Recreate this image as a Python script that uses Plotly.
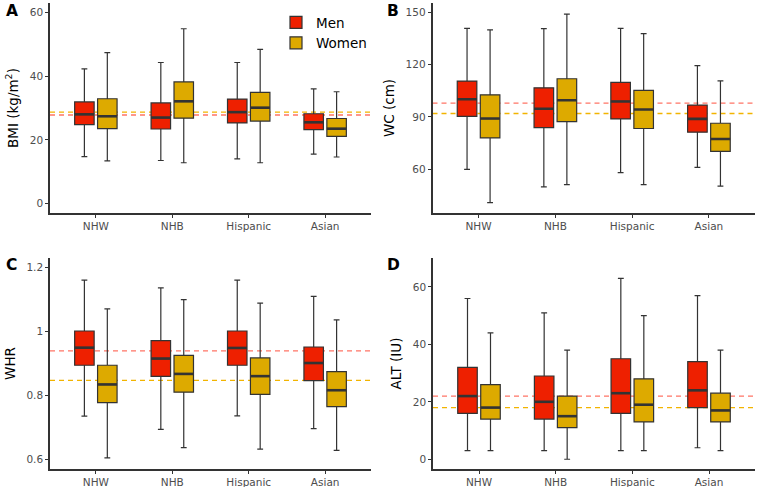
import plotly.graph_objects as go

groups = ["NHW", "NHB", "Hispanic", "Asian"]
sexes = ["Men", "Women"]

# ---- Panel A: BMI ----
bmi_men_low = [14.7, 13.5, 14.0, 15.5]
bmi_men_q1 = [24.8, 23.4, 25.3, 23.2]
bmi_men_med = [28.0, 27.0, 28.7, 25.5]
bmi_men_q3 = [31.9, 31.6, 32.8, 28.2]
bmi_men_high = [42.3, 44.3, 44.3, 36.0]
bmi_wom_low = [13.4, 12.8, 12.8, 14.6]
bmi_wom_q1 = [23.5, 26.8, 25.9, 21.1]
bmi_wom_med = [27.4, 32.1, 30.1, 23.5]
bmi_wom_q3 = [32.9, 38.2, 34.9, 26.7]
bmi_wom_high = [47.4, 54.9, 48.4, 35.1]
bmi_ref = [27.8, 28.7]

# ---- Panel B: WC ----
wc_men_low = [60.0, 50.0, 58.1, 61.1]
wc_men_q1 = [90.3, 83.9, 88.9, 81.3]
wc_men_med = [100.2, 94.7, 98.9, 88.9]
wc_men_q3 = [110.6, 106.7, 109.8, 96.8]
wc_men_high = [140.8, 140.6, 140.8, 119.4]
wc_wom_low = [41.0, 51.2, 51.2, 50.4]
wc_wom_q1 = [78.0, 87.4, 83.4, 70.3]
wc_wom_med = [89.1, 99.6, 94.3, 77.4]
wc_wom_q3 = [102.7, 111.9, 105.2, 86.4]
wc_wom_high = [139.9, 148.9, 137.7, 110.7]
wc_ref = [97.9, 92.0]

# ---- Panel C: WHR ----
whr_men_low = [0.735, 0.694, 0.736, 0.696]
whr_men_q1 = [0.894, 0.859, 0.894, 0.846]
whr_men_med = [0.949, 0.915, 0.948, 0.901]
whr_men_q3 = [1.001, 0.971, 1.001, 0.951]
whr_men_high = [1.160, 1.136, 1.160, 1.109]
whr_wom_low = [0.605, 0.637, 0.632, 0.628]
whr_wom_q1 = [0.777, 0.810, 0.803, 0.765]
whr_wom_med = [0.834, 0.867, 0.860, 0.816]
whr_wom_q3 = [0.894, 0.925, 0.917, 0.874]
whr_wom_high = [1.070, 1.099, 1.088, 1.036]
whr_ref = [0.939, 0.847]

# ---- Panel D: ALT ----
alt_men_low = [3, 3, 3, 4]
alt_men_q1 = [16, 14, 16, 18]
alt_men_med = [22, 20, 23, 24]
alt_men_q3 = [32, 29, 35, 34]
alt_men_high = [56, 51, 63, 57]
alt_wom_low = [3, 0, 3, 3]
alt_wom_q1 = [14, 11, 13, 13]
alt_wom_med = [18, 15, 19, 17]
alt_wom_q3 = [26, 22, 28, 23]
alt_wom_high = [44, 38, 50, 38]
alt_ref = [22, 18]

panels = [
    ("A", "BMI (kg/m<sup>2</sup>)", [-3, 63], [0, 20, 40, 60],
     [(bmi_men_low, bmi_men_q1, bmi_men_med, bmi_men_q3, bmi_men_high),
      (bmi_wom_low, bmi_wom_q1, bmi_wom_med, bmi_wom_q3, bmi_wom_high)], bmi_ref),
    ("B", "WC (cm)", [35, 155.3], [60, 90, 120, 150],
     [(wc_men_low, wc_men_q1, wc_men_med, wc_men_q3, wc_men_high),
      (wc_wom_low, wc_wom_q1, wc_wom_med, wc_wom_q3, wc_wom_high)], wc_ref),
    ("C", "WHR", [0.570, 1.229], [0.6, 0.8, 1.0, 1.2],
     [(whr_men_low, whr_men_q1, whr_men_med, whr_men_q3, whr_men_high),
      (whr_wom_low, whr_wom_q1, whr_wom_med, whr_wom_q3, whr_wom_high)], whr_ref),
    ("D", "ALT (IU)", [-3.4, 70.1], [0, 20, 40, 60],
     [(alt_men_low, alt_men_q1, alt_men_med, alt_men_q3, alt_men_high),
      (alt_wom_low, alt_wom_q1, alt_wom_med, alt_wom_q3, alt_wom_high)], alt_ref),
]

W, H = 758, 487
box_fill = ["#EE2000", "#DDAA00"]
ref_col = ["#FF7466", "#F2B400"]
# pixel boxes of each panel: (left, right, top, bottom)
px = [(50, 371, 3, 213), (432.5, 755, 3, 213), (50, 371, 258, 469), (433, 755, 258, 469)]
letter_pos = [(4, 11), (385, 11), (4, 265), (385, 265)]

# dodge geometry (category units)
BOXGAP, GROUPGAP = 0.4, 0.15
slot = (1 - BOXGAP) / 2
box_w = slot * (1 - GROUPGAP)
offsets = [-slot / 2, slot / 2]

fig = go.Figure()
font_fam = "DejaVu Sans"

for i, (letter, ytitle, yrange, ticks, series, ref) in enumerate(panels):
    n = i + 1
    xa = "x" if n == 1 else f"x{n}"
    ya = "y" if n == 1 else f"y{n}"
    for s in range(2):
        fig.add_shape(type="line", xref=f"{xa} domain", yref=ya,
                      x0=0, x1=1, y0=ref[s], y1=ref[s], layer="below",
                      line=dict(color=ref_col[s], width=1.3, dash="5px,4px"))
    for s, (lo, q1, med, q3, hi) in enumerate(series):
        fig.add_trace(go.Box(
            x=groups, lowerfence=lo, q1=q1, median=med, q3=q3, upperfence=hi,
            name=sexes[s], legendgroup=sexes[s], showlegend=(n == 1),
            fillcolor=box_fill[s], line=dict(color="#333333", width=1.2),
            whiskerwidth=0.3, offsetgroup=sexes[s],
            xaxis=xa, yaxis=ya, boxpoints=False, hoverinfo="skip"))
        # thicker median bar, as in ggplot
        for g in range(len(groups)):
            c = g + offsets[s]
            fig.add_shape(type="line", xref=xa, yref=ya, layer="above",
                          x0=c - box_w / 2, x1=c + box_w / 2, y0=med[g], y1=med[g],
                          line=dict(color="#333333", width=2.6))
    l, r, t, b = px[i]
    axis_common = dict(showline=True, linecolor="#333333", linewidth=1.5,
                       ticks="outside", ticklen=3, tickcolor="#333333", tickwidth=1,
                       showgrid=False, zeroline=False,
                       tickfont=dict(family=font_fam, size=10.5, color="#4D4D4D"))
    fig.layout[f"xaxis{n if n > 1 else ''}"] = dict(
        domain=[l / W, r / W], anchor=ya, range=[-0.6, 3.6],
        categoryorder="array", categoryarray=groups, type="category", **axis_common)
    fig.layout[f"yaxis{n if n > 1 else ''}"] = dict(
        domain=[1 - b / H, 1 - t / H], anchor=xa, range=yrange, tickvals=ticks,
        title=dict(text=ytitle, font=dict(family=font_fam, size=13.5, color="black"),
                   standoff=8), **axis_common)
    lx, ly = letter_pos[i]
    fig.add_annotation(text=f"<b>{letter}</b>", x=lx / W, y=1 - ly / H, xref="paper", yref="paper",
                       xanchor="left", yanchor="middle", showarrow=False,
                       font=dict(family=font_fam, size=15.5, color="black"))

fig.update_layout(
    width=W, height=H, margin=dict(l=0, r=0, t=0, b=0),
    paper_bgcolor="white", plot_bgcolor="white",
    boxmode="group", boxgap=BOXGAP, boxgroupgap=GROUPGAP,
    font=dict(family=font_fam),
    legend=dict(x=276 / W, y=1 - 7 / H, xanchor="left", yanchor="top",
                bgcolor="rgba(0,0,0,0)", tracegroupgap=0,
                font=dict(family=font_fam, size=13.5, color="black"),
                itemwidth=30),
)

fig.write_html("out.html", config={"displayModeBar": False},
               post_script="document.body.style.margin='0px';")
